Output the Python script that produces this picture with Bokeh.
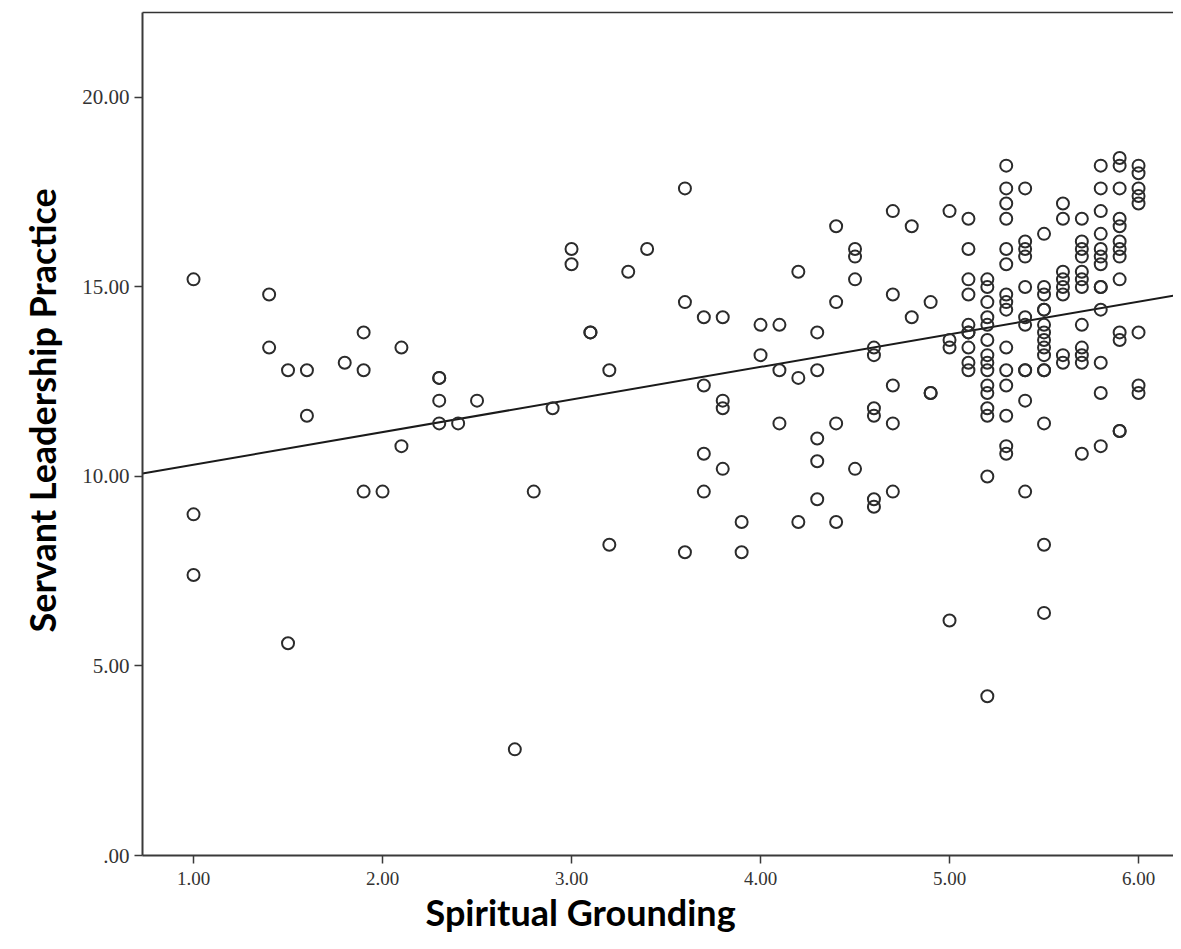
from bokeh.plotting import figure
from bokeh.models import Range1d, FixedTicker, Title, LinearAxis
from bokeh.embed import file_html
from bokeh.resources import INLINE

# ---------------- data ----------------
x_title = "Spiritual Grounding"
y_title = "Servant Leadership Practice"

x_ticks = [1, 2, 3, 4, 5, 6]
x_tick_labels = ["1.00", "2.00", "3.00", "4.00", "5.00", "6.00"]
y_ticks = [0, 5, 10, 15, 20]
y_tick_labels = [".00", "5.00", "10.00", "15.00", "20.00"]

# regression line
fit_intercept = 9.45
fit_slope = 0.86

# observed points (x = Spiritual Grounding, y = Servant Leadership Practice)
spiritual_grounding = [
    1.0, 1.0, 1.0,
    1.4, 1.4,
    1.5, 1.5,
    1.6, 1.6,
    1.8,
    1.9, 1.9, 1.9,
    2.0,
    2.1, 2.1,
    2.3, 2.3, 2.3, 2.3,
    2.4,
    2.5,
    2.7,
    2.8,
    2.9,
    3.0, 3.0,
    3.1, 3.1,
    3.2, 3.2,
    3.3,
    3.4,
    3.6, 3.6, 3.6,
    3.7, 3.7, 3.7, 3.7,
    3.8, 3.8, 3.8, 3.8,
    3.9, 3.9,
    4.0, 4.0,
    4.1, 4.1, 4.1,
    4.2, 4.2, 4.2,
    4.3, 4.3, 4.3, 4.3, 4.3,
    4.4, 4.4, 4.4, 4.4,
    4.5, 4.5, 4.5, 4.5,
    4.6, 4.6, 4.6, 4.6, 4.6, 4.6,
    4.7, 4.7, 4.7, 4.7, 4.7,
    4.8, 4.8,
    4.9, 4.9, 4.9,
    5.0, 5.0, 5.0, 5.0,
    5.1, 5.1, 5.1, 5.1, 5.1, 5.1, 5.1, 5.1, 5.1, 5.1,
    5.2, 5.2, 5.2, 5.2, 5.2, 5.2, 5.2, 5.2, 5.2, 5.2, 5.2, 5.2, 5.2, 5.2, 5.2,
    5.3, 5.3, 5.3, 5.3, 5.3, 5.3, 5.3, 5.3, 5.3, 5.3, 5.3, 5.3, 5.3, 5.3, 5.3,
    5.4, 5.4, 5.4, 5.4, 5.4, 5.4, 5.4, 5.4, 5.4, 5.4, 5.4,
    5.5, 5.5, 5.5, 5.5, 5.5, 5.5, 5.5, 5.5, 5.5, 5.5, 5.5, 5.5, 5.5, 5.5, 5.5,
    5.6, 5.6, 5.6, 5.6, 5.6, 5.6, 5.6, 5.6,
    5.7, 5.7, 5.7, 5.7, 5.7, 5.7, 5.7, 5.7, 5.7, 5.7, 5.7, 5.7,
    5.8, 5.8, 5.8, 5.8, 5.8, 5.8, 5.8, 5.8, 5.8, 5.8, 5.8, 5.8, 5.8,
    5.9, 5.9, 5.9, 5.9, 5.9, 5.9, 5.9, 5.9, 5.9, 5.9, 5.9, 5.9, 5.9,
    6.0, 6.0, 6.0, 6.0, 6.0, 6.0, 6.0, 6.0,
]
servant_leadership = [
    15.2, 9.0, 7.4,
    14.8, 13.4,
    12.8, 5.6,
    12.8, 11.6,
    13.0,
    13.8, 12.8, 9.6,
    9.6,
    13.4, 10.8,
    12.6, 12.6, 12.0, 11.4,
    11.4,
    12.0,
    2.8,
    9.6,
    11.8,
    16.0, 15.6,
    13.8, 13.8,
    12.8, 8.2,
    15.4,
    16.0,
    17.6, 14.6, 8.0,
    14.2, 12.4, 10.6, 9.6,
    14.2, 12.0, 11.8, 10.2,
    8.8, 8.0,
    14.0, 13.2,
    14.0, 12.8, 11.4,
    15.4, 12.6, 8.8,
    13.8, 12.8, 11.0, 10.4, 9.4,
    16.6, 14.6, 11.4, 8.8,
    16.0, 15.8, 15.2, 10.2,
    13.4, 13.2, 11.8, 11.6, 9.4, 9.2,
    17.0, 14.8, 12.4, 11.4, 9.6,
    16.6, 14.2,
    14.6, 12.2, 12.2,
    17.0, 13.6, 13.4, 6.2,
    16.8, 16.0, 15.2, 14.8, 14.0, 13.8, 13.8, 13.4, 13.0, 12.8,
    15.2, 15.0, 14.6, 14.2, 14.0, 13.6, 13.2, 13.0, 12.8, 12.4, 12.2, 11.8, 11.6, 10.0, 4.2,
    18.2, 17.6, 17.2, 16.8, 16.0, 15.6, 14.8, 14.6, 14.4, 13.4, 12.8, 12.4, 11.6, 10.8, 10.6,
    17.6, 16.2, 16.0, 15.8, 15.0, 14.2, 14.0, 12.8, 12.8, 12.0, 9.6,
    16.4, 15.0, 14.8, 14.4, 14.4, 14.0, 13.8, 13.6, 13.4, 13.2, 12.8, 12.8, 11.4, 8.2, 6.4,
    17.2, 16.8, 15.4, 15.2, 15.0, 14.8, 13.2, 13.0,
    16.8, 16.2, 16.0, 15.8, 15.4, 15.2, 15.0, 14.0, 13.4, 13.2, 13.0, 10.6,
    18.2, 17.6, 17.0, 16.4, 16.0, 15.8, 15.6, 15.0, 15.0, 14.4, 13.0, 12.2, 10.8,
    18.4, 18.2, 17.6, 16.8, 16.6, 16.2, 16.0, 15.8, 15.2, 13.8, 13.6, 11.2, 11.2,
    18.2, 18.0, 17.6, 17.4, 17.2, 13.8, 12.4, 12.2,
]

# ---------------- layout ----------------
x_lo, x_hi = 0.730, 6.185
y_lo, y_hi = 0.0, 22.24

p = figure(
    width=1173, height=941,
    x_range=Range1d(x_lo, x_hi), y_range=Range1d(y_lo, y_hi),
    output_backend="svg", toolbar_location=None,
    min_border_left=142, min_border_right=0,
    min_border_top=12, min_border_bottom=86,
    background_fill_color="white", border_fill_color="white",
)
p.xgrid.visible = False
p.ygrid.visible = False
p.outline_line_color = None

xa = p.below[0]
ya = p.left[0]

xa.ticker = FixedTicker(ticks=x_ticks)
xa.major_label_overrides = {t: l for t, l in zip(x_ticks, x_tick_labels)}
ya.ticker = FixedTicker(ticks=y_ticks)
ya.major_label_overrides = {t: l for t, l in zip(y_ticks, y_tick_labels)}

for ax in (xa, ya):
    ax.axis_line_color = "#3a3a3a"
    ax.axis_line_width = 2
    ax.major_tick_line_color = "#3a3a3a"
    ax.major_tick_line_width = 1.5
    ax.major_tick_out = 8
    ax.major_tick_in = 0
    ax.minor_tick_line_color = None
    ax.major_label_text_font = "Liberation Serif"
    ax.major_label_text_color = "#333333"
xa.major_label_text_font_size = "19px"
xa.major_label_standoff = 8
ya.major_label_text_font_size = "21px"
ya.major_label_standoff = 5

# top frame line (the reference has a top border but no visible right border)
top_axis = LinearAxis(ticker=FixedTicker(ticks=[]), axis_line_color="#333333",
                      axis_line_width=1.5, major_tick_line_color=None,
                      major_tick_out=0, major_tick_in=0, major_label_standoff=0,
                      minor_tick_line_color=None, major_label_text_font_size="0px")
p.add_layout(top_axis, "above")

# regression line
fit_x = [x_lo, x_hi]
fit_y = [fit_intercept + fit_slope * v for v in fit_x]
p.line(fit_x, fit_y, line_color="#1a1a1a", line_width=2)

# points
p.scatter(spiritual_grounding, servant_leadership, marker="circle", size=12,
          fill_color=None, line_color="#2b2b2b", line_width=2)

# axis titles as side-panel titles, offset like the reference
xt = Title(text=x_title, align="left", offset=283, standoff=0,
           text_font="Lato", text_font_style="bold", text_font_size="36px",
           text_color="black")
p.add_layout(xt, "below")
yt = Title(text=y_title, align="left", offset=223, standoff=32,
           text_font="Lato", text_font_style="bold", text_font_size="36px",
           text_color="black")
p.add_layout(yt, "left")

open("out.html", "w").write(file_html(p, INLINE))
